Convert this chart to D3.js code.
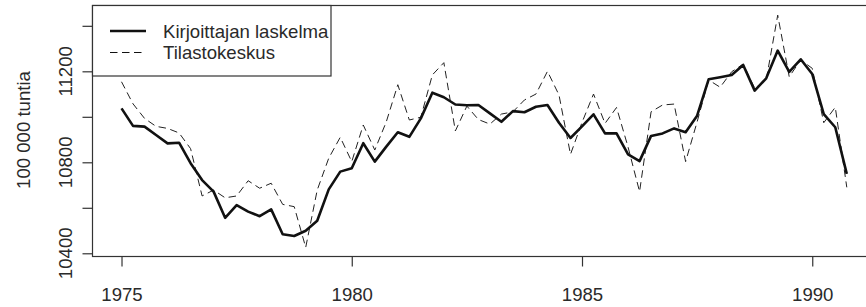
<!DOCTYPE html>
<html>
<head>
<meta charset="utf-8">
<script src="https://cdn.jsdelivr.net/npm/d3@7/dist/d3.min.js"></script>
<style>
  html, body { margin: 0; padding: 0; background: #fff; }
  svg { display: block; font-family: "Liberation Sans", Arial, sans-serif; }
</style>
</head>
<body>
<svg id="chart" width="866" height="307"></svg>
<script>
// ---- data (quarterly, 1975Q1 .. 1990Q4) ----
const startYear = 1975;
const kirjoittaja = [
  11037, 10960, 10957, 10920, 10883, 10886, 10796, 10722,
  10671, 10556, 10612, 10583, 10563, 10593, 10484, 10476,
  10499, 10543, 10681, 10759, 10774, 10884, 10803, 10869,
  10932, 10912, 10993, 11106, 11086, 11054, 11051, 11052,
  11015, 10978, 11025, 11020, 11044, 11052, 10974, 10907,
  10958, 11011, 10927, 10927, 10835, 10805, 10916, 10927,
  10949, 10932, 11005, 11165, 11174, 11184, 11228, 11115,
  11169, 11291, 11198, 11253, 11188, 11012, 10954, 10749
];
const tilastokeskus = [
  11154, 11057, 10993, 10958, 10949, 10929, 10860, 10652,
  10678, 10644, 10652, 10719, 10686, 10708, 10615, 10605,
  10426, 10678, 10818, 10910, 10803, 10964, 10854, 10978,
  11141, 10986, 10998, 11184, 11238, 10938, 11047, 10988,
  10968, 11012, 11022, 11074, 11100, 11200, 11096, 10835,
  10975, 11100, 10971, 11041, 10867, 10671, 11022, 11052,
  11056, 10803, 10978, 11162, 11130, 11198, 11232, 11125,
  11162, 11447, 11176, 11250, 11213, 10974, 11042, 10690
];
const xTicks = [1975, 1980, 1985, 1990];
const yTicks = [10400, 10600, 10800, 11000, 11200, 11400];
const yTickLabels = [10400, 10800, 11200];
const seriesNames = ["Kirjoittajan laskelma", "Tilastokeskus"];
const yTitle = "100 000 tuntia";

// ---- layout ----
const svg = d3.select("#chart");
const pLeft = 92.5, pRight = 875.8, pTop = 5.5, pBottom = 256.5;
const fontSize = 18.6;
const textColor = "#2a2a2a";

const x = d3.scaleLinear().domain([1974.37, 1991.38]).range([pLeft, pRight]);
const y = d3.scaleLinear().domain([10385, 11488]).range([256.7, 5.8]);

const tOf = i => startYear + i / 4;

// lines
const line = d3.line().x((d, i) => x(tOf(i))).y(d => y(d));

svg.append("path").datum(tilastokeskus)
  .attr("d", line).attr("fill", "none")
  .attr("stroke", "#222").attr("stroke-width", 1)
  .attr("stroke-dasharray", "7.5,4.5");

svg.append("path").datum(kirjoittaja)
  .attr("d", line).attr("fill", "none")
  .attr("stroke", "#111").attr("stroke-width", 2.6)
  .attr("stroke-linejoin", "round");

// box
svg.append("rect")
  .attr("x", pLeft).attr("y", pTop)
  .attr("width", pRight - pLeft).attr("height", pBottom - pTop)
  .attr("fill", "none").attr("stroke", "#333").attr("stroke-width", 1.2);

// x axis
const xAxis = d3.axisBottom(x).tickValues(xTicks).tickFormat(d3.format("d"))
  .tickSize(10).tickPadding(21);
const gx = svg.append("g").attr("transform", `translate(0,${pBottom})`).call(xAxis);
gx.select(".domain").remove();
gx.selectAll(".tick line").attr("stroke", "#333").attr("stroke-width", 1.2);
gx.selectAll(".tick text").attr("font-size", fontSize)
  .attr("font-family", "Liberation Sans, Arial, sans-serif").attr("fill", textColor);

// y axis
const yAxis = d3.axisLeft(y).tickValues(yTicks).tickSize(10).tickFormat("");
const gy = svg.append("g").attr("transform", `translate(${pLeft},0)`).call(yAxis);
gy.select(".domain").remove();
gy.selectAll(".tick line").attr("stroke", "#333").attr("stroke-width", 1.2);

svg.append("g").selectAll("text").data(yTickLabels).join("text")
  .attr("transform", d => `translate(71.5,${y(d)}) rotate(-90)`)
  .attr("text-anchor", "middle")
  .attr("font-size", fontSize).attr("fill", textColor)
  .text(d => d3.format("d")(d));

svg.append("text")
  .attr("transform", `translate(30,130) rotate(-90)`)
  .attr("text-anchor", "middle")
  .attr("font-size", fontSize).attr("fill", textColor)
  .text(yTitle);

// legend
const lg = svg.append("g");
lg.append("rect").attr("x", pLeft).attr("y", pTop)
  .attr("width", 331 - pLeft).attr("height", 76 - pTop)
  .attr("fill", "#fff").attr("stroke", "#333").attr("stroke-width", 1.2);
const legendRows = [
  { name: seriesNames[0], w: 2.6, dash: null, yy: 31 },
  { name: seriesNames[1], w: 1, dash: "7.5,4.5", yy: 52.5 }
];
legendRows.forEach(r => {
  lg.append("line").attr("x1", 110).attr("x2", 146).attr("y1", r.yy).attr("y2", r.yy)
    .attr("stroke", "#111").attr("stroke-width", r.w)
    .attr("stroke-dasharray", r.dash);
  lg.append("text").attr("x", 163).attr("y", r.yy + 6.7)
    .attr("font-size", fontSize).attr("fill", textColor).text(r.name);
});
</script>
</body>
</html>
